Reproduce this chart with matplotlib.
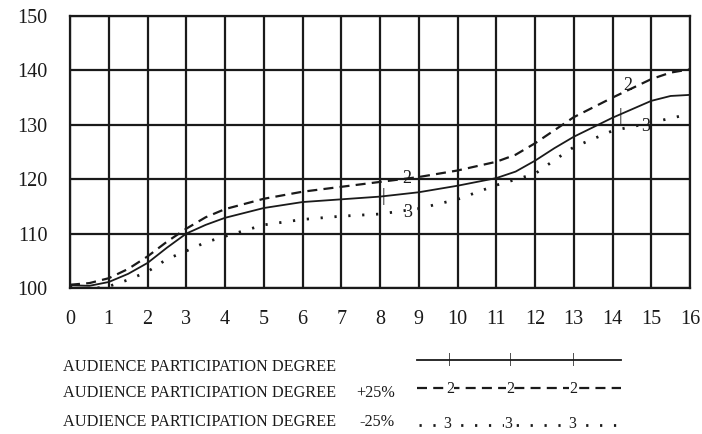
import matplotlib
matplotlib.use("Agg")
import matplotlib.pyplot as plt
from matplotlib.lines import Line2D

# Data
x_base = [0, 0.5, 1, 1.5, 2, 2.5, 3, 3.5, 4, 5, 6, 7, 8, 9, 10, 11, 11.5, 12, 12.5, 13, 14, 15, 15.5, 16]
y_base = [100.5, 100.4, 101.1, 102.6, 104.6, 107.4, 110.0, 111.6, 112.9, 114.7, 115.8, 116.3, 116.8, 117.6, 118.8, 120.2, 121.4, 123.4, 125.7, 127.8, 131.3, 134.4, 135.3, 135.5]

x_plus = [0, 0.5, 1, 1.5, 2, 2.5, 3, 3.5, 4, 5, 6, 7, 8, 9, 10, 11, 11.5, 12, 12.5, 13, 14, 15, 15.5, 16]
y_plus = [100.6, 100.9, 101.8, 103.5, 105.8, 108.5, 110.9, 113.0, 114.5, 116.4, 117.7, 118.6, 119.5, 120.4, 121.6, 123.2, 124.5, 126.6, 129.0, 131.4, 135.0, 138.4, 139.6, 140.2]

x_minus = [0, 0.5, 1, 1.5, 2, 2.5, 3, 3.5, 4, 5, 6, 7, 8, 9, 10, 11, 12, 12.5, 13, 14, 15, 16]
y_minus = [100.3, 99.8, 100.3, 101.5, 103.0, 105.3, 106.8, 108.4, 109.5, 111.6, 112.6, 113.2, 113.6, 114.6, 116.3, 118.9, 121.0, 123.5, 125.9, 128.9, 130.4, 132.0]

x_ticks = list(range(0, 17))
y_ticks = [100, 110, 120, 130, 140, 150]

legend_labels = ["AUDIENCE PARTICIPATION DEGREE",
                 "AUDIENCE PARTICIPATION DEGREE",
                 "AUDIENCE PARTICIPATION DEGREE"]
legend_suffix = ["", "+25%", "-25%"]
curve_ids = ["1", "2", "3"]

serif = ["Liberation Serif", "DejaVu Serif"]
INK = "#1a1a1a"
DASH = (0, (4.5, 2.8))
DOT = (0, (0.8, 4.2))

fig = plt.figure(figsize=(7.02, 4.34), dpi=100)
fig.patch.set_facecolor("white")
ax = fig.add_axes([70/702, 1-288/434, 620/702, 272/434])

ax.set_xlim(0, 16)
ax.set_ylim(100, 150)
ax.set_xticks(x_ticks)
ax.set_yticks(y_ticks)
ax.set_xticklabels([str(v) for v in x_ticks], fontfamily=serif, fontsize=14.5, color=INK)
ax.set_yticklabels([str(v) for v in y_ticks], fontfamily=serif, fontsize=14.5, color=INK)
ax.tick_params(length=0, pad=16, axis="y")
ax.tick_params(length=0, pad=16, axis="x")
ax.grid(True, color=INK, linewidth=1.6)
for s in ax.spines.values():
    s.set_linewidth(1.6)
    s.set_color(INK)
ax.set_axisbelow(True)

ax.plot(x_base, y_base, color=INK, lw=1.3, ls="-")
ax.plot(x_plus, y_plus, color=INK, lw=1.6, ls=DASH)
ax.plot(x_minus, y_minus, color=INK, lw=2.0, ls=DOT)

# inline curve labels
lab_style = dict(fontfamily=serif, fontsize=13, color=INK, ha="center", va="center")
ax.text(8.1, 116.9, "|", **lab_style)
ax.text(14.2, 131.6, "|", **lab_style)
ax.text(8.7, 120.2, curve_ids[1], **lab_style)
ax.text(14.4, 137.2, curve_ids[1], **lab_style)
ax.text(8.7, 113.9, curve_ids[2], **lab_style)
ax.text(14.85, 129.6, curve_ids[2], **lab_style)

# legend block
lax = fig.add_axes([0, 0, 1, 1], facecolor="none")
lax.set_xlim(0, 702)
lax.set_ylim(434, 0)
lax.axis("off")
rows_y = [367, 393, 422]
for i, yy in enumerate(rows_y):
    lax.text(63, yy, legend_labels[i], fontfamily=serif, fontsize=11.7, va="center", ha="left", color=INK)
    if legend_suffix[i]:
        lax.text(395, yy, legend_suffix[i], fontfamily=serif, fontsize=11.7, va="center", ha="right", color=INK)
lax.add_line(Line2D([417, 621], [360, 360], color=INK, lw=1.3))
for xx in [449, 510, 573]:
    lax.text(xx, 360, "|", fontfamily=serif, fontsize=11, ha="center", va="center", color=INK)
lax.add_line(Line2D([417, 621], [388, 388], color=INK, lw=1.6, ls=DASH))
for xx in [450, 510, 573]:
    lax.text(xx, 389, curve_ids[1], fontfamily=serif, fontsize=11.5, ha="center", va="center", color=INK,
             bbox=dict(facecolor="white", edgecolor="none", pad=0.3))
lax.add_line(Line2D([419, 618], [425, 425], color=INK, lw=2.0, ls=DOT))
for xx in [447, 508, 572]:
    lax.text(xx, 424, curve_ids[2], fontfamily=serif, fontsize=11.5, ha="center", va="center", color=INK,
             bbox=dict(facecolor="white", edgecolor="none", pad=0.3))

fig.savefig("out.png", dpi=100, facecolor="white")
